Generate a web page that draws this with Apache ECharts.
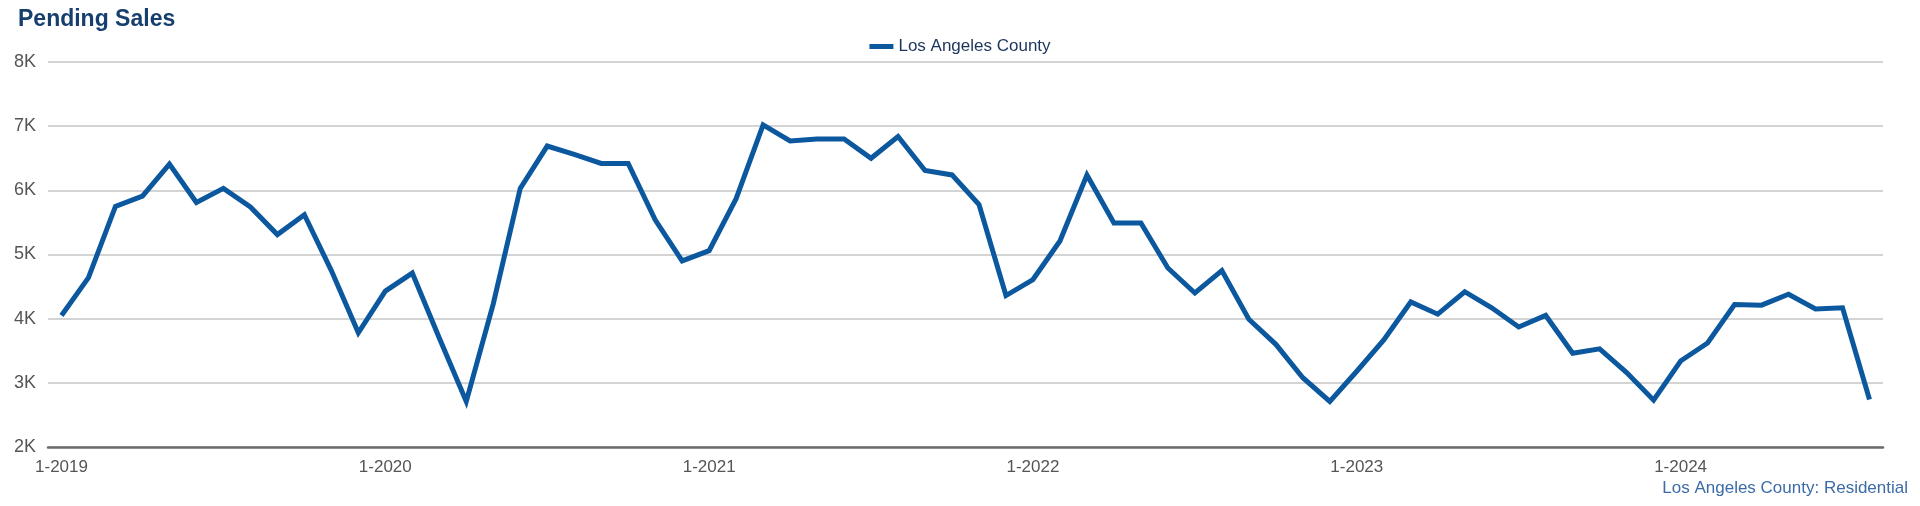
<!DOCTYPE html>
<html>
<head>
<meta charset="utf-8">
<title>Pending Sales</title>
<script src="https://cdn.jsdelivr.net/npm/echarts@6/dist/echarts.min.js"></script>
<style>
  html, body { margin: 0; padding: 0; background: #fff; }
  #chart { width: 1920px; height: 506px; }
</style>
</head>
<body>
<div id="chart"></div>
<script>
// monthly pending sales, Jan 2019 .. Aug 2024
var years = [2019, 2020, 2021, 2022, 2023, 2024];
var sales2019 = [4050, 4640, 5750, 5910, 6410, 5810, 6030, 5740, 5310, 5620, 4750, 3780];
var sales2020 = [4430, 4710, 3700, 2710, 4230, 6030, 6690, 6560, 6420, 6420, 5540, 4900];
var sales2021 = [5060, 5870, 7020, 6770, 6800, 6800, 6500, 6840, 6310, 6240, 5780, 4360];
var sales2022 = [4610, 5210, 6240, 5490, 5490, 4790, 4400, 4750, 3990, 3600, 3080, 2710];
var sales2023 = [3180, 3670, 4260, 4070, 4420, 4170, 3870, 4050, 3460, 3530, 3160, 2730];
var sales2024 = [3340, 3620, 4220, 4210, 4380, 4150, 4170, 2740];
var yTicks = [2000, 3000, 4000, 5000, 6000, 7000, 8000];

var values = [].concat(sales2019, sales2020, sales2021, sales2022, sales2023, sales2024);
var months = [];
years.forEach(function (y) {
    for (var m = 1; m <= 12; m++) months.push(m + '-' + y);
});
months = months.slice(0, values.length);

var font = 'Liberation Sans, Arial, Helvetica, sans-serif';
var myChart = echarts.init(document.getElementById('chart'));
var option = {
    animation: false,
    title: [{
        text: 'Pending Sales',
        left: 13,
        top: 3,
        textStyle: { fontFamily: font, fontSize: 23, fontWeight: 'bold', color: '#173f6e' }
    }, {
        text: 'Los Angeles County: Residential',
        right: 7,
        bottom: 4,
        textStyle: { fontFamily: font, fontSize: 17, fontWeight: 'normal', color: '#3c6ba6' }
    }],
    legend: {
        top: 33,
        left: 'center',
        icon: 'rect',
        itemWidth: 24,
        itemHeight: 5,
        itemGap: 10,
        textStyle: { fontFamily: font, fontSize: 17, color: '#1b345c' },
        data: ['Los Angeles County']
    },
    grid: { left: 48, right: 37, top: 62, bottom: 59, containLabel: false },
    xAxis: {
        type: 'category',
        boundaryGap: true,
        data: months,
        axisLine: { lineStyle: { color: '#6b6b6b', width: 2.5 } },
        axisTick: { alignWithLabel: true, interval: 11, length: 6, lineStyle: { color: '#6b6b6b', width: 2 } },
        axisLabel: { interval: 11, margin: 12, fontFamily: font, fontSize: 17, color: '#555' },
        splitLine: { show: false }
    },
    yAxis: {
        type: 'value',
        min: yTicks[0],
        max: yTicks[yTicks.length - 1],
        interval: 1000,
        axisLine: { show: false },
        axisTick: { show: false },
        axisLabel: {
            margin: 12,
            fontFamily: font,
            fontSize: 18,
            color: '#555',
            formatter: function (v) { return (v / 1000) + 'K'; }
        },
        splitLine: { lineStyle: { color: '#c6c6c6', width: 1.5 } }
    },
    series: [{
        name: 'Los Angeles County',
        type: 'line',
        symbol: 'none',
        lineStyle: { color: '#0b589f', width: 5, join: 'miter' },
        itemStyle: { color: '#0b589f' },
        data: values
    }]
};
myChart.setOption(option);
</script>
</body>
</html>
